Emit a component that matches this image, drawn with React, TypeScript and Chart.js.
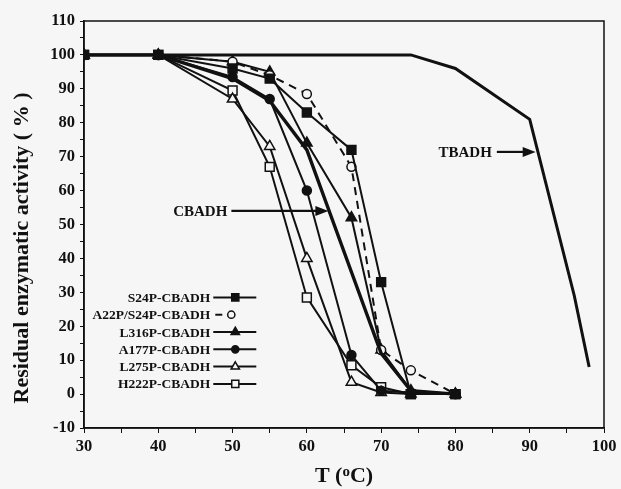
import React, { useEffect, useRef } from 'react';
import { Chart, registerables } from 'chart.js';

Chart.register(...registerables);

// ---------- data ----------
const temps = [30, 40, 50, 55, 60, 66, 70, 74, 80];
const s24p = [100, 100, 96, 93, 83, 72, 33, 0, 0];
const a22p = [100, 100, 98, 94, 88.5, 67, 13, 7, 0];
const l316p = [100, 100, 98, 95, 74, 52, 13, 1, 0];
const a177p = [100, 100, 93.5, 87, 60, 11.5, 1, 0.5, 0];
const l275p = [100, 100, 87, 73, 40, 3.5, 0.5, 0, 0];
const h222p = [100, 100, 89.5, 67, 28.5, 8.5, 2, 0, 0];
const cbadhTemps = [30, 40, 50, 55, 60, 66, 70, 74, 80];
const cbadh = [100, 100, 93, 86.5, 72, 36, 12, 1, 0];
const tbadhTemps = [30, 40, 50, 60, 70, 74, 80, 90, 96, 98];
const tbadh = [100, 100, 100, 100, 100, 100, 96, 81, 29, 8];

const seriesNames = ['S24P-CBADH', 'A22P/S24P-CBADH', 'L316P-CBADH', 'A177P-CBADH', 'L275P-CBADH', 'H222P-CBADH'];
const seriesValues = [s24p, a22p, l316p, a177p, l275p, h222p];
const seriesMarkers = ['rect', 'circle', 'triangle', 'circle', 'triangle', 'rect'];
const seriesFilled = [true, false, true, true, false, false];
const seriesDashed = [false, true, false, false, false, false];

const xTitle = ['T (', 'o', 'C)'];
const yTitle = 'Residual enzymatic activity ( % )';
const cbadhLabel = 'CBADH';
const tbadhLabel = 'TBADH';

// annotation anchors in data coordinates
const cbadhTextEnd = { x: 49.3, y: 54 };
const cbadhArrowTip = { x: 62.9, y: 54 };
const tbadhTextEnd = { x: 84.9, y: 71.4 };
const tbadhArrowTip = { x: 90.8, y: 71.4 };
const legendAnchor = { x: 47.0, y: 28.5 };

const FONT = '"Liberation Serif", "Times New Roman", serif';
const BG = '#f6f6f6';
const INK = '#111111';

function markerPath(ctx: CanvasRenderingContext2D, style: string, x: number, y: number, r: number) {
  ctx.beginPath();
  if (style === 'rect') {
    const s = r * Math.SQRT1_2;
    ctx.rect(x - s, y - s, 2 * s, 2 * s);
  } else if (style === 'triangle') {
    let rad = 0;
    ctx.moveTo(x + Math.sin(rad) * r, y - Math.cos(rad) * r);
    rad += (2 * Math.PI) / 3;
    ctx.lineTo(x + Math.sin(rad) * r, y - Math.cos(rad) * r);
    rad += (2 * Math.PI) / 3;
    ctx.lineTo(x + Math.sin(rad) * r, y - Math.cos(rad) * r);
    ctx.closePath();
  } else {
    ctx.arc(x, y, r, 0, Math.PI * 2);
  }
}

function markerRadius(style: string) {
  if (style === 'rect') return 6.3;
  if (style === 'triangle') return 6;
  return 4.5;
}

function arrow(ctx: CanvasRenderingContext2D, x1: number, x2: number, y: number) {
  const head = 13;
  ctx.save();
  ctx.strokeStyle = INK;
  ctx.fillStyle = INK;
  ctx.lineWidth = 2.2;
  ctx.beginPath();
  ctx.moveTo(x1, y);
  ctx.lineTo(x2 - head + 1, y);
  ctx.stroke();
  ctx.beginPath();
  ctx.moveTo(x2, y);
  ctx.lineTo(x2 - head, y - 5);
  ctx.lineTo(x2 - head, y + 5);
  ctx.closePath();
  ctx.fill();
  ctx.restore();
}

const decorPlugin = {
  id: 'decor',
  beforeDraw(chart: any) {
    const ctx = chart.ctx;
    ctx.save();
    ctx.fillStyle = BG;
    ctx.fillRect(0, 0, chart.width, chart.height);
    ctx.restore();
  },
  afterDatasetsDraw(chart: any) {
    const ctx: CanvasRenderingContext2D = chart.ctx;
    const xs = chart.scales.x;
    const ys = chart.scales.y;
    const a = chart.chartArea;
    ctx.save();
    // frame
    ctx.strokeStyle = INK;
    ctx.lineWidth = 1.5;
    ctx.strokeRect(a.left, a.top, a.right - a.left, a.bottom - a.top);

    // annotations
    ctx.fillStyle = INK;
    ctx.font = `bold 15px ${FONT}`;
    ctx.textAlign = 'right';
    ctx.textBaseline = 'middle';
    const cy = ys.getPixelForValue(cbadhTextEnd.y);
    const cx = xs.getPixelForValue(cbadhTextEnd.x);
    ctx.fillText(cbadhLabel, cx, cy + 1);
    arrow(ctx, cx + 4, xs.getPixelForValue(cbadhArrowTip.x), ys.getPixelForValue(cbadhArrowTip.y));
    const ty = ys.getPixelForValue(tbadhTextEnd.y);
    const tx = xs.getPixelForValue(tbadhTextEnd.x);
    ctx.fillText(tbadhLabel, tx, ty + 1);
    arrow(ctx, tx + 5, xs.getPixelForValue(tbadhArrowTip.x), ys.getPixelForValue(tbadhArrowTip.y));

    // legend
    const lx = xs.getPixelForValue(legendAnchor.x);
    let ly = ys.getPixelForValue(legendAnchor.y);
    const rowH = 17.3;
    ctx.font = `bold 13.5px ${FONT}`;
    for (let i = 0; i < seriesNames.length; i++) {
      ctx.fillStyle = INK;
      ctx.textAlign = 'right';
      ctx.fillText(seriesNames[i], lx, ly + 1);
      const l1 = lx + 3;
      const l2 = lx + 46;
      const mx = seriesDashed[i] ? lx + 21 : lx + 25;
      ctx.strokeStyle = INK;
      ctx.lineWidth = 2;
      ctx.beginPath();
      if (seriesDashed[i]) {
        ctx.moveTo(lx + 5, ly);
        ctx.lineTo(lx + 12, ly);
      } else {
        ctx.moveTo(l1, ly);
        ctx.lineTo(l2, ly);
      }
      ctx.stroke();
      const st = seriesMarkers[i];
      markerPath(ctx, st, mx, ly, markerRadius(st) * 0.8);
      ctx.fillStyle = seriesFilled[i] ? INK : BG;
      ctx.fill();
      ctx.lineWidth = 1.5;
      ctx.stroke();
      ly += rowH;
    }

    // axis titles
    ctx.fillStyle = INK;
    ctx.font = `bold 22px ${FONT}`;
    ctx.textAlign = 'left';
    ctx.textBaseline = 'middle';
    const w0 = ctx.measureText(xTitle[0]).width;
    ctx.font = `bold 15px ${FONT}`;
    const w1 = ctx.measureText(xTitle[1]).width;
    ctx.font = `bold 22px ${FONT}`;
    const w2 = ctx.measureText(xTitle[2]).width;
    const total = w0 + w1 + w2;
    const xc = (a.left + a.right) / 2;
    const yT = 476;
    let px = xc - total / 2;
    ctx.fillText(xTitle[0], px, yT);
    px += w0;
    ctx.font = `bold 15px ${FONT}`;
    ctx.fillText(xTitle[1], px, yT - 4);
    px += w1;
    ctx.font = `bold 22px ${FONT}`;
    ctx.fillText(xTitle[2], px, yT);

    ctx.translate(22, 248);
    ctx.rotate(-Math.PI / 2);
    ctx.textAlign = 'center';
    ctx.font = `bold 22px ${FONT}`;
    ctx.fillText(yTitle, 0, 0);
    ctx.restore();
  },
};

export default function App() {
  const ref = useRef<HTMLCanvasElement | null>(null);
  useEffect(() => {
    document.body.style.margin = '0';
    const canvas = ref.current;
    if (!canvas) return;

    const markerSets = seriesNames.map((name, i) => {
      const st = seriesMarkers[i];
      return {
        label: name,
        data: temps.map((t, k) => ({ x: t, y: seriesValues[i][k] })),
        borderColor: INK,
        borderWidth: 2,
        borderDash: seriesDashed[i] ? [8, 6] : [],
        pointStyle: st,
        pointRadius: markerRadius(st),
        pointBorderWidth: 1.5,
        pointBorderColor: INK,
        pointBackgroundColor: seriesFilled[i] ? INK : BG,
        tension: 0,
        fill: false,
      };
    });

    const chart = new Chart(canvas, {
      type: 'line',
      data: {
        datasets: [
          {
            label: 'CBADH',
            data: cbadhTemps.map((t, k) => ({ x: t, y: cbadh[k] })),
            borderColor: INK,
            borderWidth: 3.4,
            pointRadius: 0,
            tension: 0,
            fill: false,
          },
          {
            label: 'TBADH',
            data: tbadhTemps.map((t, k) => ({ x: t, y: tbadh[k] })),
            borderColor: INK,
            borderWidth: 3,
            pointRadius: 0,
            tension: 0,
            fill: false,
          },
          ...markerSets,
        ] as any,
      },
      options: {
        responsive: false,
        animation: false,
        devicePixelRatio: 1,
        layout: { padding: { top: 21, right: 17, left: 0, bottom: 0 } },
        plugins: {
          legend: { display: false },
          tooltip: { enabled: false },
          title: { display: false },
        },
        scales: {
          x: {
            type: 'linear',
            min: 30,
            max: 100,
            afterFit: (s: any) => { s.height = 61; },
            ticks: {
              stepSize: 5,
              autoSkip: false,
              maxRotation: 0,
              padding: 4,
              color: INK,
              font: { family: FONT, size: 16.5, weight: 'bold' },
              callback: (v: any) => (Number(v) % 10 === 0 ? String(v) : ''),
            },
            grid: { drawOnChartArea: false, drawTicks: true, tickLength: 5, color: INK, lineWidth: 1 },
            border: { display: true, color: INK, width: 1.5 },
          },
          y: {
            type: 'linear',
            min: -10,
            max: 110,
            afterFit: (s: any) => { s.width = 84; },
            ticks: {
              stepSize: 5,
              autoSkip: false,
              padding: 5,
              color: INK,
              font: { family: FONT, size: 16.5, weight: 'bold' },
              callback: (v: any) => (Number(v) % 10 === 0 ? String(v) : ''),
            },
            grid: { drawOnChartArea: false, drawTicks: true, tickLength: 4, color: INK, lineWidth: 1 },
            border: { display: true, color: INK, width: 1.5 },
          },
        },
      } as any,
      plugins: [decorPlugin],
    });
    return () => chart.destroy();
  }, []);

  return (
    <div style={{ position: 'absolute', left: 0, top: 0, width: 621, height: 489, background: BG }}>
      <canvas ref={ref} width={621} height={489} style={{ display: 'block', width: 621, height: 489 }} />
    </div>
  );
}
